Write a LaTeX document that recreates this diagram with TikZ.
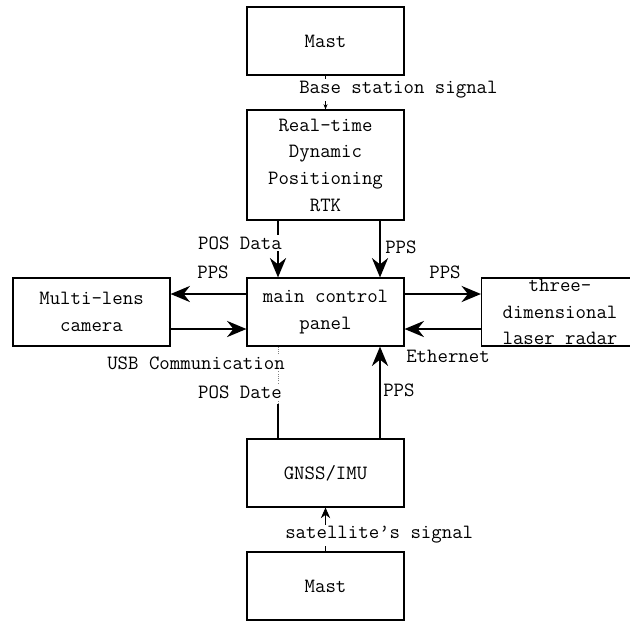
\documentclass[tikz,border=0pt]{standalone}
\usetikzlibrary{arrows.meta}

\tikzset{
	block/.style = {draw = black,
		line width = 0.8pt,
		shape = rectangle,
		minimum width = 117.75pt,
		minimum height = 51pt,
		align = center,
		inner sep = 0pt},
	sig/.style = {line width = 2.2pt},
	faint/.style = {line width = 0.7pt},
	lbl/.style = {fill = white, inner sep = 1.5pt},
}

\begin{document}
\begin{tikzpicture}[x = 0.75pt, y = -0.75pt,
	font = \ttfamily\fontsize{15.2}{20}\selectfont,
	>={Stealth[length = 14.5pt, width = 12pt]}]

	\useasboundingbox (0,0) rectangle (630,622);

	% boxes
	\draw (325.5,41) node[block](mastT){Mast};
	\draw (325.5,165) node[block,
		minimum height = 82.5pt](rtk){Real-time\\Dynamic\\Positioning\\RTK};
	\draw (325.5,312) node[block](main){main control\\panel};
	\draw (91.5,312) node[block](cam){Multi-lens\\camera};
	\draw (560,312) node[block](radar){three-\\dimensional\\laser radar};
	\draw (325.5,473) node[block](gnss){GNSS/IMU};
	\draw (325.5,586) node[block](mastB){Mast};

	% helper lines
	\coordinate (xl) at (278,0);
	\coordinate (xr) at (380,0);
	\coordinate (yu) at (0,294);
	\coordinate (yd) at (0,329);
	\coordinate (cut) at (278,404);

	% connectors
	\draw[faint, -{Stealth[length = 4pt, width = 3pt]}] (mastT) -- (rtk);
	\draw[faint, -{Stealth[length = 8pt, width = 7pt]}] (mastB) -- (gnss);

	\draw[sig, ->] (rtk.south -| xl) -- (main.north -| xl);
	\draw[sig, ->] (rtk.south -| xr) -- (main.north -| xr);

	\draw[sig, ->] (main.west |- yu) -- (cam.east |- yu);
	\draw[sig, ->] (cam.east |- yd) -- (main.west |- yd);

	\draw[sig, ->] (main.east |- yu) -- (radar.west |- yu);
	\draw[sig, ->] (radar.west |- yd) -- (main.east |- yd);

	\draw[sig] (gnss.north -| xl) -- (cut);
	\draw[faint, densely dotted, gray] (cut) -- (main.south -| xl);
	\draw[sig, ->] (gnss.north -| xr) -- (main.south -| xr);

	% labels
	\node[lbl, anchor = west](lBase) at (297,90){Base station signal};
	\node[lbl, anchor = east](lPosA) at (284,243){POS Data};
	\node[lbl, anchor = west](lPpsA) at (383,247){PPS};
	\node[lbl](lPpsL) at (213,272){PPS};
	\node[lbl](lPpsR) at (445,272){PPS};
	\node[lbl](lEth) at (448,356){Ethernet};
	\node[lbl, anchor = east](lUsb) at (287,363){USB Communication};
	\node[lbl, anchor = east](lPosB) at (284,392){POS Date};
	\node[lbl, anchor = west](lPpsB) at (381,390){PPS};
	\node[lbl, anchor = west](lSat) at (283,535){satellite’s signal};

\end{tikzpicture}
\end{document}
